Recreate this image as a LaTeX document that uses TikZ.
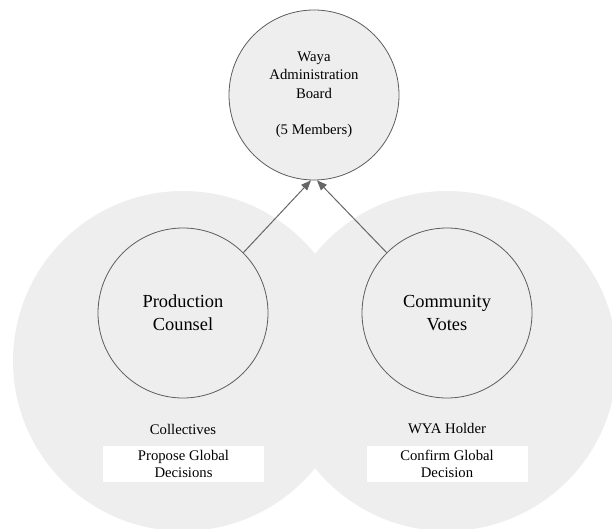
\documentclass[tikz,border=0pt]{standalone}
\usepackage{fontspec}
\setmainfont{Liberation Serif}
\usetikzlibrary{arrows.meta}
\definecolor{areagray}{HTML}{EEEEEE}
\definecolor{ringgray}{HTML}{5C5C5C}
\definecolor{arrowgray}{HTML}{666666}

\begin{document}
\begin{tikzpicture}[x=1pt, y=-1pt, > = {Triangle[length=10pt, width=8pt]},
	bubble/.style = {circle, draw=ringgray, fill=areagray, line width=0.8pt, minimum size=170pt, inner sep=0pt, align=center},
	caption/.style = {font=\fontsize{14.7}{16.7}\selectfont, align=center},
	tag/.style = {caption, fill=white, minimum width=161pt, minimum height=36pt, inner sep=0pt}]
	\useasboundingbox (0,0) rectangle (612,529);
	\clip (0,0) rectangle (612,529);

	\fill[areagray] (183,361) circle [radius=170pt] ; % left area
	\fill[areagray] (447,361) circle [radius=170pt] ; % right area

	\node[bubble, font=\fontsize{14.7}{18.5}\selectfont] (board) at (314,95) {Waya\\Administration\\Board\\[18pt](5 Members)};
	\node[bubble, font=\fontsize{18.4}{23}\selectfont] (prod) at (183,313) {Production\\Counsel};
	\node[bubble, font=\fontsize{18.4}{23}\selectfont] (votes) at (447,313) {Community\\Votes};

	\node[caption] (coll) at (183,429) {Collectives};
	\node[tag] (propose) at (183.5,464) {Propose Global\\Decisions};
	\node[caption] (wya) at (447,429) {WYA Holder};
	\node[tag] (confirm) at (447,464) {Confirm Global\\Decision};

	\draw[->, arrowgray, line width=1pt] (prod.45) -- (board.268); % up to board
	\draw[->, arrowgray, line width=1pt] (votes.135) -- (board.272);
\end{tikzpicture}
\end{document}
